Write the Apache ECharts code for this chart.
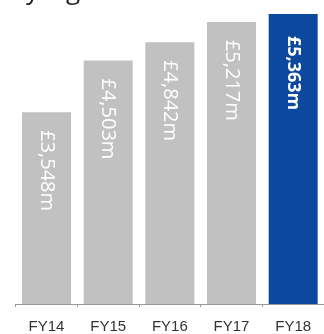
<!DOCTYPE html>
<html><head><meta charset="utf-8">
<script src="https://cdn.jsdelivr.net/npm/echarts@6/dist/echarts.min.js"></script>
<style>html,body{margin:0;padding:0;background:#fff}#c{width:324px;height:334px}</style>
</head><body><div id="c"></div>
<script>
const categories = ['FY14', 'FY15', 'FY16', 'FY17', 'FY18'];
const revenue = [3548, 4503, 4842, 5217, 5363];
const valueLabels = ['£3,548m', '£4,503m', '£4,842m', '£5,217m', '£5,363m'];
const highlightIndex = 4;

const chart = echarts.init(document.getElementById('c'), null, {renderer: 'canvas'});
const data = revenue.map((v, i) => ({
  value: v,
  itemStyle: {color: i === highlightIndex ? '#0b489e' : '#c1c1c1'},
  label: i === highlightIndex ? {fontWeight: 'bold', fontSize: 18, distance: 22} : {}
}));
chart.setOption({
  animation: false,
  grid: {left: 15.7, right: -8.5, top: 14, bottom: 27, containLabel: false},
  graphic: [
    {type: 'text', left: 26, top: -21, style: {text: 'y', font: '26px "Open Sans"', fill: '#222'}},
    {type: 'text', left: 66, top: -21, style: {text: 'g', font: '26px "Open Sans"', fill: '#222'}}
  ],
  xAxis: {
    type: 'category', data: categories, offset: 3,
    axisLine: {lineStyle: {color: '#999', width: 1}},
    axisTick: {show: true, length: 3, lineStyle: {color: '#999'}},
    axisLabel: {color: '#333', fontFamily: '"Liberation Sans", Arial, sans-serif', fontSize: 15, margin: 12}
  },
  yAxis: {type: 'value', min: 0, max: 5363, show: false, splitLine: {show: false}},
  series: [{
    type: 'bar', data: data, barWidth: 49,
    label: {
      show: true, position: 'insideTop', rotate: -90, align: 'left', verticalAlign: 'middle',
      distance: 18, color: '#fff', fontFamily: '"Open Sans", sans-serif', fontSize: 20,
      formatter: p => valueLabels[p.dataIndex]
    }
  }]
});
</script></body></html>
